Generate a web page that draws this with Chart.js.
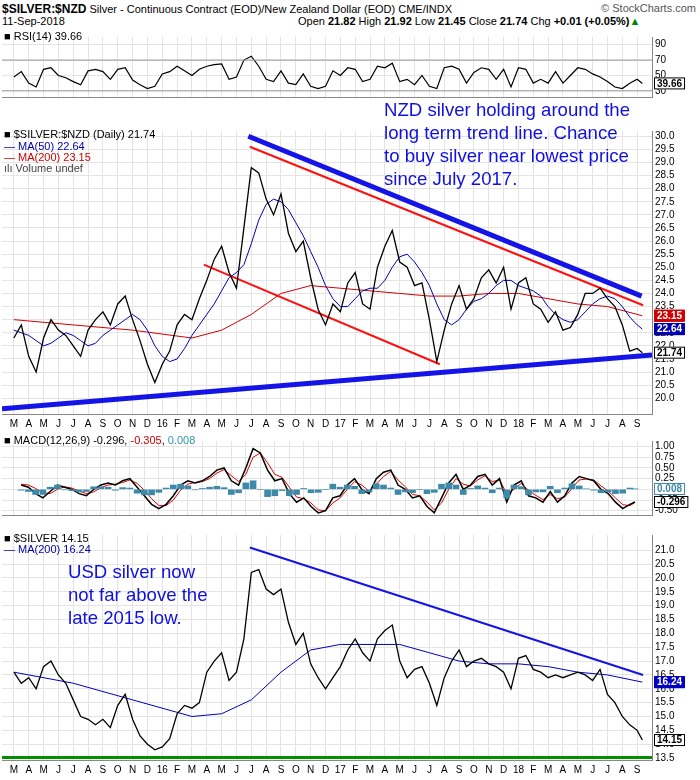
<!DOCTYPE html>
<html><head><meta charset="utf-8">
<script src="https://cdn.jsdelivr.net/npm/chart.js@4/dist/chart.umd.min.js"></script>
<style>
body{margin:0;background:#fff;font-family:"Liberation Sans",Arial,sans-serif;}
#wrap{position:relative;width:700px;height:780px;}
canvas{position:absolute;left:0;}
.t{position:absolute;font-size:11px;white-space:nowrap;color:#000;}
.ann{position:absolute;color:#1010e0;font-size:18.6px;line-height:23px;}
</style></head><body><div id="wrap">
<div class="t" style="left:2px;top:2px"><b style="font-size:12px">$SILVER:$NZD</b> Silver - Continuous Contract (EOD)/New Zealand Dollar (EOD) CME/INDX</div>
<div class="t" style="right:4px;top:2px;color:#555">© StockCharts.com</div>
<div class="t" style="left:2px;top:15px">11-Sep-2018</div>
<div class="t" style="left:298px;top:15px">Open <b>21.82</b> High <b>21.92</b> Low <b>21.45</b> Close <b>21.74</b> Chg <b>+0.01 (+0.05%)</b><span style="color:#080">▲</span></div>
<canvas id="c1" width="700" height="78" style="top:28px"></canvas>
<canvas id="c2" width="700" height="312" style="top:122px"></canvas>
<canvas id="c3" width="700" height="92" style="top:432px"></canvas>
<canvas id="c4" width="700" height="254" style="top:526px"></canvas>
<div class="t" style="left:4px;top:30px">■ RSI(14) 39.66</div>
<div class="t" style="left:4px;top:128px">■ $SILVER:$NZD (Daily) 21.74</div>
<div class="t" style="left:4px;top:140px;color:#00a">— MA(50) 22.64</div>
<div class="t" style="left:4px;top:151px;color:#c00">— MA(200) 23.15</div>
<div class="t" style="left:4px;top:162px;color:#444">ılı Volume undef</div>
<div class="t" style="left:4px;top:434px">■ MACD(12,26,9) -0.296, <span style="color:#c00">-0.305</span>, <span style="color:#39a">0.008</span></div>
<div class="t" style="left:4px;top:532px">■ $SILVER 14.15</div>
<div class="t" style="left:4px;top:543px;color:#00a">— MA(200) 16.24</div>
<div class="ann" style="left:384px;top:98px">NZD silver holding around the<br>long term trend line. Chance<br>to buy silver near lowest price<br>since July 2017.</div>
<div class="ann" style="left:68px;top:560px">USD silver now<br>not far above the<br>late 2015 low.</div>
</div>
<script>
const months=[2,2.5,3,3.5,4,4.5,5,5.5,6,6.5, 7,7.5,8,8.5,9,9.5,10,10.5,11,11.5, 12,12.5,13,13.5,14,14.5,15,15.5,16,16.5, 17,17.5,18,18.5,19,19.5,20,20.5,21,21.5, 22,22.5,23,23.5,24,24.5,25,25.5,26,26.5, 27,27.5,28,28.5,29,29.5,30,30.5,31,31.5, 32,32.5,33,33.5,34,34.5,35,35.5,36,36.5, 37,37.5,38,38.5,39,39.5,40,40.5,41,41.5, 42,42.5,43,43.5,44,44.35];
const nzd=[22.3,22.8,21.6,21.0,22.3,23.0,22.6,22.4,22.0,21.6, 22.6,23.0,23.3,22.8,23.6,23.9,23.0,22.2,21.3,20.6, 21.3,21.8,22.8,23.2,23.0,23.8,24.5,25.3,25.8,24.8, 24.2,26.5,28.8,28.6,27.6,27.0,27.8,26.3,25.6,26.0, 24.6,23.4,22.8,23.6,23.3,24.4,24.8,23.6,23.4,25.0, 25.8,26.4,25.2,25.0,24.3,24.4,23.0,21.4,22.6,23.6, 24.3,23.4,23.8,24.6,24.9,24.4,25.0,23.4,24.4,24.6, 23.6,23.4,22.9,23.3,22.6,22.7,23.2,24.0,24.0,24.2, 23.8,23.5,22.8,21.8,21.9,21.74];
const nzdMa50=[22.6,22.5,22.4,22.2,22.0,22.1,22.3,22.5,22.4,22.2, 22.0,22.1,22.4,22.6,22.8,23.0,23.2,23.0,22.6,22.0, 21.6,21.4,21.5,21.9,22.4,22.8,23.2,23.6,24.1,24.6, 24.8,25.1,25.9,26.8,27.4,27.6,27.5,27.2,26.7,26.2, 25.6,25.0,24.3,23.8,23.5,23.5,23.8,24.1,24.2,24.2, 24.5,25.0,25.4,25.5,25.2,24.8,24.3,23.6,23.0,22.8, 23.0,23.4,23.7,23.8,24.0,24.3,24.5,24.5,24.3,24.2, 24.1,23.9,23.5,23.2,23.0,22.9,23.0,23.3,23.6,23.8, 23.9,23.8,23.5,23.1,22.8,22.64];
const maMonths=[2,6,10,14,16,18,20,22,24,26,28,30,32,34,36,38,40,42,44.35];
const nzdMa200=[23.0,22.8,22.6,22.3,22.6,23.2,24.0,24.3,24.2,24.1,24.0,23.9,23.9,24.0,24.0,23.8,23.6,23.5,23.15];
const usd=[16.6,16.2,16.4,16.0,16.8,17.0,16.5,16.2,15.6,15.0, 14.9,14.7,14.9,14.6,15.4,15.8,14.9,14.3,14.0,13.8, 13.9,14.2,15.1,15.4,15.3,15.5,16.6,17.0,17.3,16.3, 16.6,17.8,20.2,20.3,19.6,19.4,19.6,18.4,17.6,18.0, 16.9,16.4,16.0,16.4,16.8,17.4,17.8,17.3,17.0,17.8, 18.1,18.3,17.0,16.4,16.7,16.8,16.2,15.4,16.4,17.0, 17.4,16.8,17.0,17.1,16.9,16.8,16.6,16.0,17.1,17.2, 16.7,16.6,16.4,16.5,16.4,16.5,16.6,16.5,16.3,16.7, 15.8,15.5,15.0,14.7,14.5,14.15];
const usdMa200=[16.6,16.2,15.6,15.0,15.1,15.6,16.6,17.4,17.6,17.6,17.6,17.3,17.0,16.9,16.9,16.8,16.6,16.5,16.24];
const rsi=[48,55,40,35,58,60,50,47,42,38, 56,58,55,45,58,60,44,38,33,36, 52,55,62,56,50,58,62,64,65,45, 48,70,75,62,45,42,56,40,38,52, 36,33,36,56,50,60,58,42,45,62, 60,66,42,45,38,50,36,33,60,62, 58,40,54,60,58,45,58,35,60,58, 40,45,40,55,40,50,60,58,52,48, 42,35,33,40,45,39.66];
const macd=[0.10,0.05,-0.10,-0.20,-0.05,0.10,0.05,0.00,-0.10,-0.15, 0.00,0.10,0.15,0.10,0.20,0.25,0.05,-0.15,-0.35,-0.45, -0.35,-0.15,0.10,0.20,0.15,0.20,0.30,0.45,0.50,0.20, 0.10,0.50,0.95,0.85,0.45,0.20,0.25,-0.10,-0.30,-0.20, -0.40,-0.55,-0.50,-0.20,-0.15,0.10,0.25,0.00,-0.10,0.25, 0.40,0.45,0.10,0.00,-0.20,-0.15,-0.40,-0.55,-0.20,0.15, 0.35,0.00,0.10,0.30,0.35,0.10,0.25,-0.30,0.10,0.20, -0.15,-0.20,-0.30,-0.05,-0.30,-0.15,0.15,0.30,0.25,0.20, 0.00,-0.10,-0.30,-0.45,-0.35,-0.296];
const signal=[0.12,0.10,0.02,-0.08,-0.10,0.00,0.06,0.03,-0.04,-0.10, -0.06,0.04,0.10,0.12,0.16,0.22,0.14,-0.02,-0.22,-0.38, -0.38,-0.25,-0.02,0.12,0.16,0.18,0.25,0.38,0.46,0.32, 0.18,0.35,0.75,0.85,0.62,0.35,0.28,0.05,-0.18,-0.22, -0.32,-0.48,-0.50,-0.32,-0.20,0.00,0.18,0.10,-0.04,0.12, 0.30,0.42,0.22,0.06,-0.12,-0.15,-0.30,-0.48,-0.32,0.00, 0.25,0.12,0.08,0.22,0.32,0.18,0.22,-0.10,0.00,0.14, -0.02,-0.14,-0.24,-0.12,-0.22,-0.18,0.02,0.22,0.24,0.22, 0.08,-0.04,-0.20,-0.36,-0.38,-0.305];
const monthNames=['J','F','M','A','M','J','J','A','S','O','N','D'];
const monthTicks=[2,3,4,5,6,7,8,9,10,11,12,13,14,15,16,17,18,19,20,21,22,23,24,25,26,27,28,29,30,31,32,33,34,35,36,37,38,39,40,41,42,43,44];
const nzdTicks=[20,20.5,21,21.5,22,22.5,23,23.5,24,24.5,25,25.5,26,26.5,27,27.5,28,28.5,29,29.5,30];
const usdTicks=[13.5,14,14.5,15,15.5,16,16.5,17,17.5,18,18.5,19,19.5,20,20.5,21];
const rsiTicks=[30,50,70,90];
const macdTicks=[-0.5,-0.25,0,0.25,0.5,0.75,1];
const nzdSupport={x:[1.2,45],y:[19.6,21.65]};
const nzdResist={x:[17.8,44.3],y:[30.0,23.9]};
const nzdRedUpper={x:[17.9,44.4],y:[29.6,23.55]};
const nzdRedLower={x:[14.8,30.7],y:[25.1,21.3]};
const usdResist={x:[17.9,44.4],y:[21.1,16.5]};
const usdFloor={x:[1.2,45],y:[13.52,13.52]};

const pts=(xs,ys)=>xs.map((x,i)=>({x,y:ys[i]}));
const XMIN=1.2,XMAX=45;
function xScale(show){return{type:'linear',min:XMIN,max:XMAX,
  afterBuildTicks:s=>{s.ticks=monthTicks.map(v=>({value:v}));},
  grid:{color:'#e4e4e4',drawTicks:false},border:{color:'#888'},
  ticks:{display:show,autoSkip:false,maxRotation:0,padding:4,color:'#000',font:{size:10,family:'Liberation Sans'},
   callback:v=>{const m=Math.round(v)%12;return m===0?String(15+Math.round(v)/12):monthNames[m];}}};}
function yScale(min,max,tks,fmt){return{position:'right',min,max,
  afterBuildTicks:s=>{s.ticks=tks.map(v=>({value:v}));},
  afterFit:s=>{s.width=48;},
  grid:{color:'#e4e4e4',drawTicks:false},border:{color:'#888'},
  ticks:{autoSkip:false,padding:3,color:'#000',font:{size:10,family:'Liberation Sans'},callback:fmt}};}
const tagPlugin={id:'tags',afterDraw(c,a,o){if(!o.items)return;const ctx=c.ctx,ys=c.scales.y;
  o.items.forEach(it=>{const y=ys.getPixelForValue(it.v);const x=c.chartArea.right+2;
   ctx.font='bold 10px Liberation Sans';const w=ctx.measureText(it.t).width+5;
   ctx.fillStyle=it.bg||'#fff';ctx.fillRect(x,y-6,w,12);ctx.strokeStyle=it.c;ctx.lineWidth=1;ctx.strokeRect(x+.5,y-5.5,w,11);
   ctx.fillStyle=it.tc||it.c;ctx.textBaseline='middle';ctx.fillText(it.t,x+3,y+0.5);});}};
Chart.register(tagPlugin);
function line(data,color,w){return{type:'line',data,borderColor:color,borderWidth:w,pointRadius:0,tension:0,fill:false};}
function base(datasets,yS,showX,tags,padTop){return{type:'line',data:{datasets},options:{animation:false,responsive:false,
  layout:{padding:{left:2,right:0,top:padTop||0,bottom:0}},
  plugins:{legend:{display:false},tooltip:{enabled:false},tags:{items:tags}},
  scales:{x:xScale(showX),y:yS}}};}

new Chart('c1',base([
  line(pts([XMIN,XMAX],[70,70]),'#999',1),line(pts([XMIN,XMAX],[30,30]),'#999',1),
  line(pts(months,rsi),'#000',1.2)],
  yScale(22,100,rsiTicks,v=>v),false,[{v:39.66,t:'39.66',c:'#000'}],4));

new Chart('c2',base([
  line(pts(months,nzd),'#000',1.3),
  line(pts(months,nzdMa50),'#0000b0',1),
  line(pts(maMonths,nzdMa200),'#d00000',1),
  line(pts(nzdRedUpper.x,nzdRedUpper.y),'#ff1010',2),
  line(pts(nzdRedLower.x,nzdRedLower.y),'#ff1010',2),
  line(pts(nzdResist.x,nzdResist.y),'#1414e6',5),
  line(pts(nzdSupport.x,nzdSupport.y),'#1414e6',5)],
  yScale(19.4,30.2,nzdTicks,v=>v.toFixed(1)),true,
  [{v:23.15,t:'23.15',c:'#d00000',bg:'#d00000',tc:'#fff'},{v:22.64,t:'22.64',c:'#0000b0',bg:'#0000b0',tc:'#fff'},{v:21.74,t:'21.74',c:'#000'}],0));

const hist=macd.map((m,i)=>m-signal[i]);
new Chart('c3',base([
  {type:'bar',data:pts(months,hist),backgroundColor:'#3d8aa8',barThickness:6},
  line(pts(months,macd),'#000',1.5),line(pts(months,signal),'#e00000',1)],
  yScale(-0.6,1.13,macdTicks,v=>v.toFixed(2)),false,
  [{v:0.008,t:'0.008',c:'#3d8aa8'},{v:-0.296,t:'-0.296',c:'#000'}],0));

new Chart('c4',base([
  line(pts(months,usd),'#000',1.3),
  line(pts(maMonths,usdMa200),'#0000c0',1),
  line(pts(usdResist.x,usdResist.y),'#1414e6',2),
  line(pts(usdFloor.x,usdFloor.y),'#009000',3)],
  yScale(13.43,21.55,usdTicks,v=>v.toFixed(1)),true,
  [{v:16.24,t:'16.24',c:'#0000c0',bg:'#0000c0',tc:'#fff'},{v:14.15,t:'14.15',c:'#000'}],4));
</script></body></html>
